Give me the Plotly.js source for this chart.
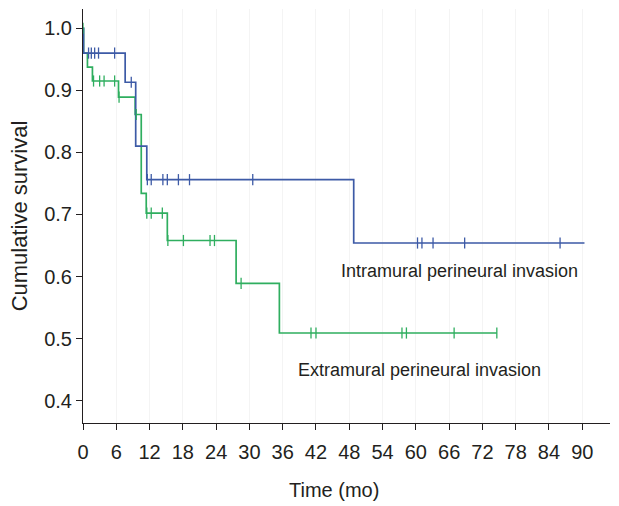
<!DOCTYPE html>
<html>
<head>
<meta charset="utf-8">
<script src="https://cdn.plot.ly/plotly-3.0.1.min.js"></script>
<style>html,body{margin:0;padding:0;background:#fff;}#chart{width:619px;height:506px;}</style>
</head>
<body>
<div id="chart"></div>
<script>
// Intramural perineural invasion (blue) — step curve
const intraTime = [0, 0.1, 7.6, 9.5, 11.5, 48.8, 90.4];
const intraSurv = [1.0, 0.96, 0.913, 0.81, 0.756, 0.654, 0.654];
const intraCensorTime = [1.0, 1.5, 2.1, 2.8, 5.7, 8.7, 11.6, 12.3, 14.4, 15.2, 17.2, 19.2, 30.6, 60.3, 61.1, 63.1, 68.8, 86.0];
const intraCensorSurv = [0.96, 0.96, 0.96, 0.96, 0.96, 0.913, 0.756, 0.756, 0.756, 0.756, 0.756, 0.756, 0.756, 0.654, 0.654, 0.654, 0.654, 0.654];

// Extramural perineural invasion (green) — step curve
const extraTime = [0, 0.1, 0.8, 1.7, 6.4, 9.4, 10.5, 11.4, 15.2, 27.6, 35.4, 74.6];
const extraSurv = [1.0, 0.96, 0.9375, 0.915, 0.889, 0.861, 0.734, 0.702, 0.658, 0.589, 0.509, 0.509];
const extraCensorTime = [0, 1.9, 3.0, 3.8, 5.7, 6.5, 9.6, 11.5, 12.3, 14.3, 15.3, 18.1, 22.9, 23.7, 28.5, 41.1, 42.0, 57.5, 58.3, 66.9, 74.6];
const extraCensorSurv = [1.0, 0.915, 0.915, 0.915, 0.915, 0.889, 0.861, 0.702, 0.702, 0.702, 0.658, 0.658, 0.658, 0.658, 0.589, 0.509, 0.509, 0.509, 0.509, 0.509, 0.509];

const xTicks = [0, 6, 12, 18, 24, 30, 36, 42, 48, 54, 60, 66, 72, 78, 84, 90];
const yTicks = [0.4, 0.5, 0.6, 0.7, 0.8, 0.9, 1.0];
const yTickText = ['0.4', '0.5', '0.6', '0.7', '0.8', '0.9', '1.0'];

const labelIntra = 'Intramural perineural invasion';
const labelExtra = 'Extramural perineural invasion';
const xTitle = 'Time (mo)';
const yTitle = 'Cumulative survival';

const blue = '#3d5aa6';
const green = '#2fae5f';
const ink = '#231f20';
const fam = 'Liberation Sans, Arial, sans-serif';

const traces = [
  {x: extraTime, y: extraSurv, mode: 'lines', line: {shape: 'hv', color: green, width: 1.7}, hoverinfo: 'skip'},
  {x: intraTime, y: intraSurv, mode: 'lines', line: {shape: 'hv', color: blue, width: 1.7}, hoverinfo: 'skip'},
  {x: extraCensorTime, y: extraCensorSurv, mode: 'markers', marker: {symbol: 'line-ns', size: 8, line: {color: green, width: 1.3}}, hoverinfo: 'skip'},
  {x: intraCensorTime, y: intraCensorSurv, mode: 'markers', marker: {symbol: 'line-ns', size: 8, line: {color: blue, width: 1.3}}, hoverinfo: 'skip'}
];

const layout = {
  width: 619, height: 506,
  margin: {l: 83, r: 9, t: 9, b: 83},
  paper_bgcolor: '#fff', plot_bgcolor: '#fff',
  showlegend: false,
  font: {family: fam, color: ink, size: 18},
  xaxis: {
    range: [0, 95], tickvals: xTicks, ticktext: xTicks.map(String),
    showline: true, linecolor: ink, linewidth: 1, zeroline: false,
    showgrid: true, gridcolor: '#f4f4f4', gridwidth: 1,
    ticks: 'outside', ticklen: 6, tickcolor: ink, tickwidth: 1,
    ticklabelstandoff: 5,
    tickfont: {size: 20, color: ink}
  },
  yaxis: {
    range: [0.364, 1.031], tickvals: yTicks, ticktext: yTickText,
    showline: true, linecolor: ink, linewidth: 1, zeroline: false, showgrid: false,
    ticks: 'outside', ticklen: 6, tickcolor: ink, tickwidth: 1,
    tickfont: {size: 20, color: ink},
    title: {text: yTitle, font: {size: 22, color: ink}, standoff: 10}
  },
  annotations: [
    {x: 67.8, y: 0.609, xref: 'x', yref: 'y', text: labelIntra, showarrow: false,
     font: {family: fam, size: 18, color: ink}},
    {x: 60.6, y: 0.450, xref: 'x', yref: 'y', text: labelExtra, showarrow: false,
     font: {family: fam, size: 18, color: ink}},
    {x: 0.476, y: -0.162, xref: 'paper', yref: 'paper', text: xTitle, showarrow: false,
     xanchor: 'center', yanchor: 'middle', font: {family: fam, size: 20, color: ink}}
  ]
};

Plotly.newPlot('chart', traces, layout, {displayModeBar: false, staticPlot: true});
</script>
</body>
</html>
